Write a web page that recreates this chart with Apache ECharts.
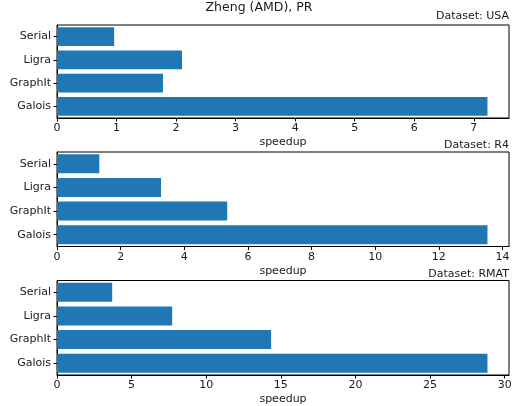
<!DOCTYPE html>
<html>

<head>
	<meta charset="UTF-8">
	<title>Zheng (AMD), PR</title>
	<script src="https://cdn.jsdelivr.net/npm/echarts@6/dist/echarts.min.js"></script>
	<style>
		html, body { margin: 0; padding: 0; background: #fff; }
		#main { width: 518px; height: 406px; }
	</style>
</head>

<body>
	<div id="main"></div>
	<script type="text/javascript">
		// 数据
		var systems = ['Serial', 'Ligra', 'GraphIt', 'Galois'];
		var datasets = ['USA', 'R4', 'RMAT'];
		var usaSpeedup = [0.96, 2.10, 1.78, 7.23];
		var r4Speedup = [1.33, 3.27, 5.35, 13.53];
		var rmatSpeedup = [3.70, 7.72, 14.35, 28.85];
		var usaTicks = [0, 1, 2, 3, 4, 5, 6, 7];
		var r4Ticks = [0, 2, 4, 6, 8, 10, 12, 14];
		var rmatTicks = [0, 5, 10, 15, 20, 25, 30];

		var allSpeedup = [usaSpeedup, r4Speedup, rmatSpeedup];
		var allTicks = [usaTicks, r4Ticks, rmatTicks];
		var textColor = '#1a1a1a';
		var font = 'DejaVu Sans';

		// 三个子图的位置
		var gridTops = [25, 152, 280.5];
		var gridHeights = [93, 94.5, 95.5];
		var labelTops = [10.5, 140, 268.5];

		var grids = [], xAxes = [], yAxes = [], series = [];
		var titles = [{
			text: 'Zheng (AMD), PR',
			left: 'center',
			top: 1.5,
			padding: 0,
			textStyle: { fontFamily: font, fontSize: 12.5, fontWeight: 'normal', color: textColor }
		}];

		for (var i = 0; i < 3; i++) {
			var maxVal = Math.max.apply(null, allSpeedup[i]) * 1.05;
			grids.push({
				left: 57, right: 9, top: gridTops[i], height: gridHeights[i],
				show: true, borderColor: '#000', borderWidth: 1, backgroundColor: '#fff'
			});
			xAxes.push({
				type: 'value',
				gridIndex: i,
				min: 0,
				max: maxVal,
				name: 'speedup',
				nameLocation: 'middle',
				nameGap: 19,
				nameTextStyle: { fontFamily: font, fontSize: 11, color: textColor },
				splitLine: { show: false },
				axisLine: { show: true, lineStyle: { color: '#000', width: 1 } },
				axisTick: { show: true, length: 3.5, lineStyle: { color: '#000' }, customValues: allTicks[i] },
				axisLabel: { fontFamily: font, fontSize: 11, color: textColor, margin: 5, customValues: allTicks[i] }
			});
			yAxes.push({
				type: 'category',
				gridIndex: i,
				data: systems,
				inverse: true,
				axisLine: { show: true, lineStyle: { color: '#000', width: 1 } },
				axisTick: { show: true, alignWithLabel: true, length: 3.5, lineStyle: { color: '#000' } },
				axisLabel: { fontFamily: font, fontSize: 11, color: textColor, margin: 6 }
			});
			series.push({
				type: 'bar',
				name: datasets[i],
				xAxisIndex: i,
				yAxisIndex: i,
				data: allSpeedup[i],
				barCategoryGap: '20%',
				itemStyle: { color: '#1f77b4' },
				silent: true
			});
			titles.push({
				text: 'Dataset: ' + datasets[i],
				right: 9,
				top: labelTops[i],
				padding: 0,
				textStyle: { fontFamily: font, fontSize: 11, fontWeight: 'normal', color: textColor }
			});
		}

		var myChart = echarts.init(document.getElementById('main'));
		myChart.setOption({
			animation: false,
			title: titles,
			grid: grids,
			xAxis: xAxes,
			yAxis: yAxes,
			series: series
		});
	</script>
</body>

</html>
